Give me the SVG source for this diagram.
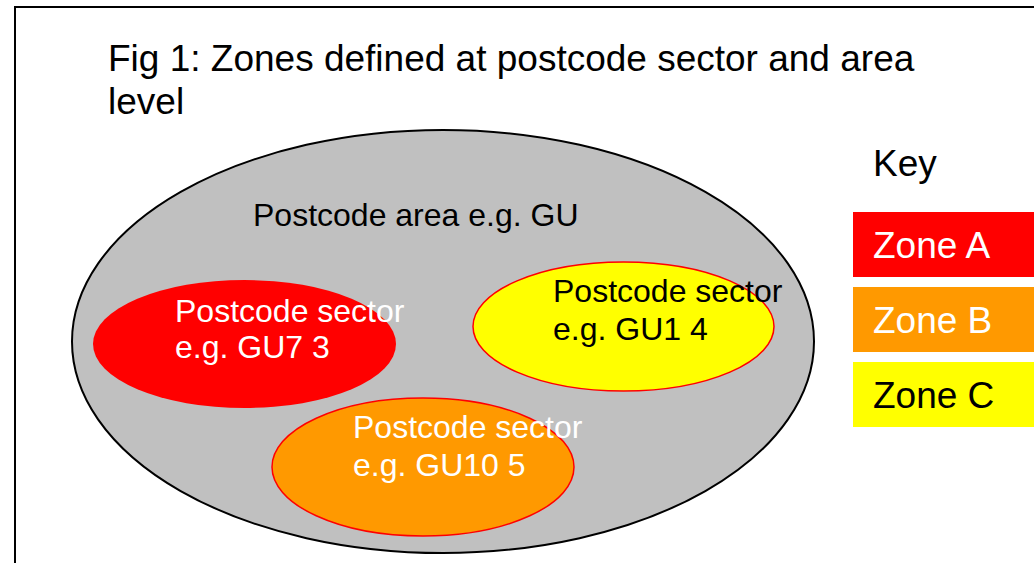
<svg xmlns="http://www.w3.org/2000/svg" width="1034" height="563" viewBox="0 0 1034 563">
<style>
text{font-family:"Liberation Sans",Arial,sans-serif}
.t32{font-size:32px}
.t37{font-size:37px}
.w{fill:#FFFFFF}
.k{fill:#000000}
.sector{stroke:#FF0000;stroke-width:1.5}
</style>
<rect width="1034" height="563" fill="#FFFFFF"/>
<path d="M15 563 V7 H1034" fill="none" stroke="#000000" stroke-width="2"/>
<g id="title">
<text class="t37 k" x="108" y="71">Fig 1: Zones defined at postcode sector and area</text>
<text class="t37 k" x="108" y="114">level</text>
</g>
<g id="area">
<ellipse cx="443" cy="341.5" rx="371" ry="211.5" fill="#C0C0C0" stroke="#000000" stroke-width="2"/>
<text class="t32 k" x="253" y="226">Postcode area e.g. GU</text>
</g>
<g id="sector-gu7">
<ellipse cx="244.5" cy="344" rx="151.5" ry="64" fill="#FF0000"/>
<text class="t32 w" x="175" y="322">Postcode sector</text>
<text class="t32 w" x="175" y="358">e.g. GU7 3</text>
</g>
<g id="sector-gu1">
<ellipse class="sector" cx="623.5" cy="326.5" rx="150.5" ry="64.5" fill="#FFFF00"/>
<text class="t32 k" x="553" y="302">Postcode sector</text>
<text class="t32 k" x="553" y="340">e.g. GU1 4</text>
</g>
<g id="sector-gu10">
<ellipse class="sector" cx="423" cy="467" rx="151" ry="69" fill="#FF9900"/>
<text class="t32 w" x="353" y="438">Postcode sector</text>
<text class="t32 w" x="353" y="476">e.g. GU10 5</text>
</g>
<g id="key">
<text class="t37 k" x="873" y="176">Key</text>
</g>
<g id="key-a">
<rect x="853" y="212" width="181" height="65" fill="#FF0000"/>
<text class="t37 w" x="873" y="258">Zone A</text>
</g>
<g id="key-b">
<rect x="853" y="287" width="181" height="65" fill="#FF9900"/>
<text class="t37 w" x="873" y="333">Zone B</text>
</g>
<g id="key-c">
<rect x="853" y="362" width="181" height="65" fill="#FFFF00"/>
<text class="t37 k" x="873" y="408">Zone C</text>
</g>
<g id="connectors"/>
</svg>
